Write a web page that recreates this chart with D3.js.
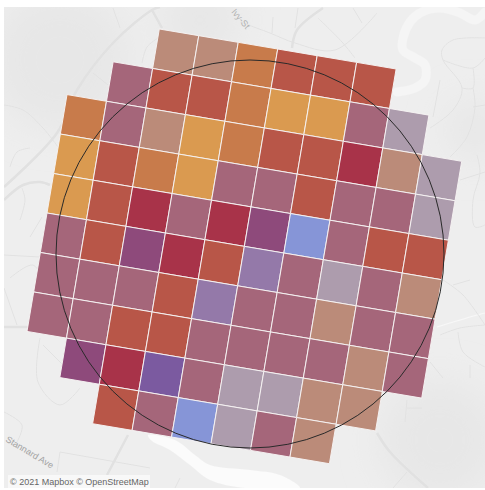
<!DOCTYPE html>
<html>
<head>
<meta charset="utf-8">
<script src="https://cdn.jsdelivr.net/npm/d3@7"></script>
<style>
html, body { margin: 0; padding: 0; background: #ffffff; }
svg { display: block; }
</style>
</head>
<body>
<script>
var w = 485;
var h = 490;

// colour steps used by the cells, from low to high
var levels = ["tan", "grey", "mauve", "red", "orange", "gold", "crimson", "purple", "lavender", "violet", "blue"];
var levelColors = ["#bb8b79", "#ad9cad", "#a5667a", "#b85648", "#c87b4b", "#da9a50", "#a83349", "#8e4a7b", "#9479a9", "#7b5aa0", "#8695d7"];

// first column of each row, then the cell values of the row
var rowStart = [0, -1, -2, -2, -2, -2, -2, -2, -1, 0];
var row0 = ["tan", "tan", "orange", "red", "red", "red"];
var row1 = ["mauve", "red", "red", "orange", "gold", "gold", "mauve", "grey"];
var row2 = ["orange", "mauve", "tan", "gold", "orange", "red", "red", "crimson", "tan", "grey"];
var row3 = ["gold", "red", "orange", "gold", "mauve", "mauve", "red", "mauve", "mauve", "grey"];
var row4 = ["gold", "red", "crimson", "mauve", "crimson", "purple", "blue", "mauve", "red", "red"];
var row5 = ["mauve", "red", "purple", "crimson", "red", "lavender", "mauve", "grey", "mauve", "tan"];
var row6 = ["mauve", "mauve", "mauve", "red", "lavender", "mauve", "mauve", "tan", "mauve", "mauve"];
var row7 = ["mauve", "mauve", "red", "red", "mauve", "mauve", "mauve", "mauve", "tan", "mauve"];
var row8 = ["purple", "crimson", "violet", "mauve", "grey", "grey", "tan", "tan"];
var row9 = ["red", "mauve", "blue", "grey", "mauve", "tan"];
var rows = [row0, row1, row2, row3, row4, row5, row6, row7, row8, row9];

// background map
var thickRoads = [
    [[4,187],[57,133],[77,90],[113,43],[152,10],[160,7]],
    [[152,10],[162,28]],
    [[4,200],[23,185],[40,182],[50,185]],
    [[323,8],[297,30],[292,48]],
    [[377,433],[390,452],[428,488]],
    [[128,435],[107,475]],
    [[4,327],[27,327]]
];
var thinRoads = [
    [[4,105],[23,110],[43,128],[58,147]],
    [[113,8],[120,28]],
    [[142,63],[147,47],[158,38]],
    [[93,73],[108,85]],
    [[10,167],[17,152],[30,148]],
    [[20,220],[25,200],[22,188]],
    [[42,217],[30,237]],
    [[272,33],[273,17]],
    [[298,8],[295,28]],
    [[240,22],[270,33],[295,43],[335,50],[377,13]],
    [[318,18],[342,42],[355,58]],
    [[353,8],[362,23]],
    [[485,38],[453,40],[442,50],[443,60],[462,88],[453,110],[430,128]],
    [[443,60],[473,68],[485,58]],
    [[473,68],[473,88],[462,88]],
    [[440,80],[433,117]],
    [[473,107],[485,105]],
    [[473,88],[475,107],[467,137],[450,157]],
    [[460,180],[485,172]],
    [[477,155],[480,173],[473,200],[475,227],[485,225]],
    [[440,335],[460,328],[485,325]],
    [[458,332],[463,352],[485,367]],
    [[470,365],[470,378]],
    [[443,280],[463,295],[485,325]],
    [[453,285],[470,280]],
    [[430,362],[443,378]],
    [[407,400],[405,422]],
    [[407,408],[422,408]],
    [[407,472],[393,488]],
    [[4,412],[22,425],[17,442]],
    [[40,338],[38,382],[60,405],[80,388]],
    [[43,345],[63,365]],
    [[60,452],[57,472]],
    [[60,452],[150,468]],
    [[4,255],[40,257]],
    [[4,288],[17,325]],
    [[10,278],[33,265],[45,285]],
    [[180,478],[175,488]]
];
var riverTop = [[485,12],[475,20],[460,13],[440,8],[420,13],[410,22],[403,38],[403,50],[415,58],[425,65],[425,80],[415,88],[397,92]];
var riverBottom = [[148,435],[175,440],[195,455],[210,465],[250,470],[280,475],[300,488],[245,488],[210,480],[190,465],[170,450],[152,441]];
var whiteRoad = [[437,327],[477,315],[485,313]];
var shades = [[60,60,70],[440,440,60],[475,130,30],[200,20,40]];

drawMap("body");

function drawMap(dom) {
    var svg = d3.select(dom)
        .append("svg")
        .attr("width", w)
        .attr("height", h);

    var defs = svg.append("defs");
    defs.append("filter")
        .attr("id", "soft")
        .append("feGaussianBlur")
        .attr("stdDeviation", 18);
    defs.append("filter")
        .attr("id", "fuzzy")
        .append("feGaussianBlur")
        .attr("stdDeviation", 0.5);

    var clip = defs.append("clipPath").attr("id", "frame");
    clip.append("rect").attr("x", 4).attr("y", 7).attr("width", w - 4).attr("height", h - 9);

    var base = svg.append("g").attr("clip-path", "url(#frame)");

    base.append("rect")
        .attr("x", 4)
        .attr("y", 7)
        .attr("width", w - 4)
        .attr("height", h - 9)
        .attr("fill", "#eeeeee");

    base.append("g").attr("filter", "url(#soft)")
        .selectAll("circle")
        .data(shades)
        .join("circle")
        .attr("cx", d => d[0])
        .attr("cy", d => d[1])
        .attr("r", d => d[2])
        .attr("fill", "#e7e7e7");

    var line = d3.line().curve(d3.curveCatmullRom);
    var lines = base.append("g").attr("filter", "url(#fuzzy)");

    lines.append("path")
        .attr("d", d3.line().curve(d3.curveCatmullRomClosed)(riverBottom))
        .attr("fill", "#fbfbfb");

    lines.append("path")
        .attr("d", line(riverTop))
        .attr("fill", "none")
        .attr("stroke", "#f5f5f5")
        .attr("stroke-width", 9)
        .attr("stroke-linecap", "round");

    lines.append("path")
        .attr("d", line(whiteRoad))
        .attr("fill", "none")
        .attr("stroke", "#f8f8f8")
        .attr("stroke-width", 1.2);

    lines.selectAll(".thin")
        .data(thinRoads)
        .join("path")
        .attr("class", "thin")
        .attr("d", line)
        .attr("fill", "none")
        .attr("stroke", "#e2e2e2")
        .attr("stroke-width", 1);

    lines.selectAll(".thick")
        .data(thickRoads)
        .join("path")
        .attr("class", "thick")
        .attr("d", line)
        .attr("fill", "none")
        .attr("stroke", "#e1e1e1")
        .attr("stroke-width", 2.5);

    base.append("text")
        .text("Stannard Ave")
        .attr("transform", "translate(5,441) rotate(31)")
        .attr("font-family", "Liberation Sans, sans-serif")
        .attr("font-size", 9)
        .attr("fill", "#a3a3a3");

    base.append("text")
        .text("Ivy-St")
        .attr("transform", "translate(231,12) rotate(50)")
        .attr("font-family", "Liberation Sans, sans-serif")
        .attr("font-size", 9)
        .attr("fill", "#b0b0b0");

    drawCells(svg);

    svg.append("circle")
        .attr("cx", 250)
        .attr("cy", 254)
        .attr("r", 194)
        .attr("fill", "none")
        .attr("stroke", "#2a2a2a")
        .attr("stroke-width", 1);

    svg.append("rect")
        .attr("x", 8)
        .attr("y", 475)
        .attr("width", 142)
        .attr("height", 13)
        .attr("fill", "#f8f8f8");

    svg.append("text")
        .text("\u00a9 2021 Mapbox \u00a9 OpenStreetMap")
        .attr("x", 10)
        .attr("y", 485)
        .attr("font-family", "Liberation Sans, sans-serif")
        .attr("font-size", 9)
        .attr("fill", "#666666");
}

function drawCells(svg) {
    var step = 40.03;
    var x = d3.scaleLinear().domain([0, 1]).range([0, step]);
    var y = d3.scaleLinear().domain([0, 1]).range([0, step]);
    var color = d3.scaleOrdinal().domain(levels).range(levelColors);

    var cells = [];
    rows.forEach(function(row, r) {
        row.forEach(function(value, i) {
            cells.push({ col: rowStart[r] + i, row: r, value: value });
        });
    });

    svg.append("g")
        .attr("transform", "translate(159.3,29) rotate(9.59)")
        .selectAll("rect")
        .data(cells)
        .join("rect")
        .attr("x", d => x(d.col))
        .attr("y", d => y(d.row))
        .attr("width", step)
        .attr("height", step)
        .attr("fill", d => color(d.value))
        .attr("stroke", "#f6f3f2")
        .attr("stroke-width", 0.9);
}
</script>
</body>
</html>
